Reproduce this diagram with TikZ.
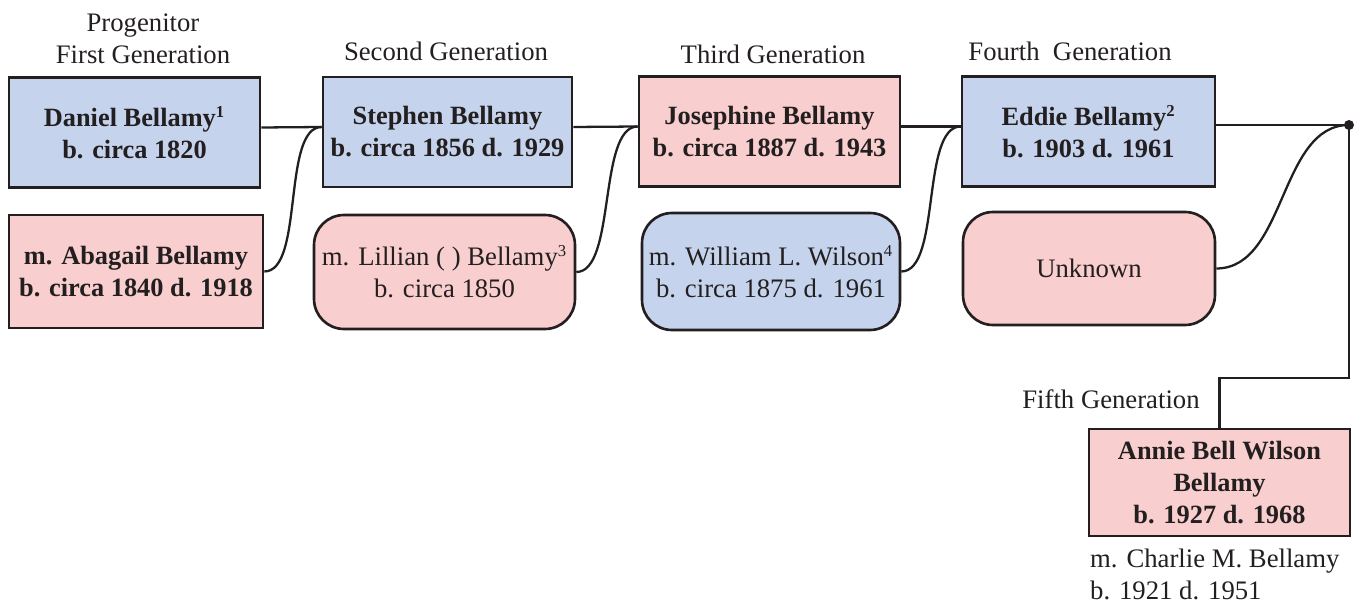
\documentclass[tikz,border=0pt]{standalone}
\usepackage{fontspec}
\setmainfont{Liberation Serif}
\usepackage{xcolor}
\usetikzlibrary{calc}

\definecolor{boyblue}{RGB}{197,211,236}
\definecolor{girlpink}{RGB}{249,206,206}
\definecolor{inkgray}{RGB}{35,31,32}

\newcommand{\fnote}[1]{\textsuperscript{\fontsize{9.5}{9.5}\selectfont #1}}

\begin{document}
\begin{tikzpicture}[
    x=0.02cm, y=-0.02cm,
    box/.style={draw=inkgray, line width=1.5pt, rectangle, minimum width=5.06cm,
      minimum height=2.2cm, align=center, inner sep=0pt,
      font=\fontsize{15}{18.2}\selectfont\bfseries, text=inkgray},
    spouse/.style={draw=inkgray, line width=1.5pt, rectangle, rounded corners=0.6cm,
      minimum width=5.16cm, minimum height=2.28cm, align=center, inner sep=0pt,
      font=\fontsize{15.2}{18.2}\selectfont, text=inkgray},
    gen/.style={align=center, font=\fontsize{15.2}{18.2}\selectfont, text=inkgray},
    link/.style={draw=inkgray, line width=1.3pt},
    dot/.style={circle, fill=inkgray, inner sep=0pt, minimum size=0.2cm}
]
\useasboundingbox (0,0) rectangle (1356,604);

% Generation headings
\node[gen] (g1) at (143,39) {Progenitor\\First Generation};
\node[gen] (g2) at (446,51) {Second Generation};
\node[gen] (g3) at (773,54) {Third Generation};
\node[gen] (g4) at (1070,51) {Fourth\ \ Generation};
\node[gen] (g5) at (1111,399) {Fifth Generation};

% First generation
\node[box, fill=boyblue, minimum width=5.02cm] (daniel) at (134.5,132.5)
  {Daniel Bellamy\fnote{1}\\b. circa 1820};
\node[box, fill=girlpink, minimum width=5.08cm, minimum height=2.26cm] (abagail) at (136,271.5)
  {m. Abagail Bellamy\\b. circa 1840 d. 1918};

% Second generation
\node[box, fill=boyblue, minimum width=4.98cm] (stephen) at (447.5,132)
  {Stephen Bellamy\\b. circa 1856 d. 1929};
\node[spouse, fill=girlpink, minimum width=5.22cm] (lillian) at (444.5,272)
  {m. Lillian ( ) Bellamy\fnote{3}\\b. circa 1850};

% Third generation
\node[box, fill=girlpink, minimum width=5.22cm] (josephine) at (769.5,131.5)
  {Josephine Bellamy\\b. circa 1887 d. 1943};
\node[spouse, fill=boyblue, minimum height=2.34cm] (william) at (771,271.5)
  {m. William L. Wilson\fnote{4}\\b. circa 1875 d. 1961};

% Fourth generation
\node[box, fill=boyblue] (eddie) at (1088.5,131.5)
  {Eddie Bellamy\fnote{2}\\b. 1903 d. 1961};
\node[spouse, fill=girlpink, minimum width=5.04cm, minimum height=2.26cm] (unknown) at (1089,268.5)
  {Unknown};

% Fifth generation
\node[box, fill=girlpink, minimum width=5.22cm, minimum height=2.14cm] (annie) at (1219.5,482.5)
  {Annie Bell Wilson\\Bellamy\\b. 1927 d. 1968};
\node[gen, align=left, anchor=north west] (charlie) at (1084,543)
  {m. Charlie M. Bellamy\\b. 1921 d. 1951};

% Joins
\node[dot] (join) at (1349,125) {};
\coordinate (turn) at (1349,378);

% Lines
\draw[link] ([yshift=0.1cm]daniel.east) -- ([yshift=0.1cm]stephen.west);
\draw[link] (abagail.east) .. controls +(40,0) and +(-40,0) .. ([yshift=0.1cm]stephen.west);
\draw[link] ([yshift=0.1cm]stephen.east) -- ([yshift=0.1cm]josephine.west);
\draw[link] (lillian.east) .. controls +(40,0) and +(-40,0) .. ([yshift=0.1cm]josephine.west);
\draw[link] ([yshift=0.1cm]josephine.east) -- ([yshift=0.1cm]eddie.west);
\draw[link] (william.east) .. controls +(40,0) and +(-40,0) .. ([yshift=0.1cm]eddie.west);
\draw[link] (eddie.east |- join) -- (join.center);
\draw[link] (unknown.east) .. controls +(70,0) and +(-70,0) .. (join.center);
\draw[link] (join.center) -- (turn) -| (annie.north);

\end{tikzpicture}
\end{document}
